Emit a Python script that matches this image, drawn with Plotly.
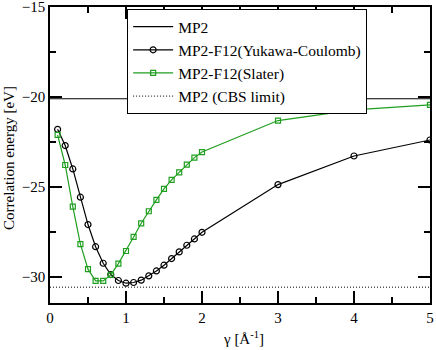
import plotly.graph_objects as go

# gamma values (1/Angstrom)
gamma = [0.1, 0.2, 0.3, 0.4, 0.5, 0.6, 0.7, 0.8, 0.9, 1.0,
         1.1, 1.2, 1.3, 1.4, 1.5, 1.6, 1.7, 1.8, 1.9, 2.0,
         3.0, 4.0, 5.0]

# correlation energies (eV)
yukawa = [-21.8, -22.7, -24.0, -25.57, -27.09, -28.32, -29.24, -29.87, -30.2, -30.35,
          -30.31, -30.18, -29.94, -29.67, -29.35, -28.98, -28.61, -28.24, -27.89, -27.52,
          -24.87, -23.28, -22.39]
slater = [-22.11, -23.78, -26.09, -28.18, -29.57, -30.22, -30.22, -29.89, -29.26, -28.56,
          -27.78, -27.02, -26.35, -25.72, -25.11, -24.61, -24.19, -23.76, -23.37, -23.06,
          -21.31, -20.72, -20.44]

mp2 = -20.1
mp2_cbs = -30.57
x_span = [0, 5]

green = "#1f9e1f"
font = "Liberation Serif, Times New Roman, Times, serif"

fig = go.Figure()
fig.add_trace(go.Scatter(x=x_span, y=[mp2, mp2], mode="lines", name="MP2",
                         line=dict(color="black", width=1.2)))
fig.add_trace(go.Scatter(x=gamma, y=yukawa, mode="lines+markers", name="MP2-F12(Yukawa-Coulomb)",
                         line=dict(color="black", width=1.2),
                         marker=dict(symbol="circle-open", size=6, color="black", line=dict(width=1.2))))
fig.add_trace(go.Scatter(x=gamma, y=slater, mode="lines+markers", name="MP2-F12(Slater)",
                         line=dict(color=green, width=1.2),
                         marker=dict(symbol="square-open", size=5, color=green, line=dict(width=1.2))))
fig.add_trace(go.Scatter(x=x_span, y=[mp2_cbs, mp2_cbs], mode="lines", name="MP2 (CBS limit)",
                         line=dict(color="black", width=1, dash="1px,2px")))

axis_common = dict(showgrid=False, zeroline=False, showline=True, linecolor="black", linewidth=1.5,
                   mirror="allticks", ticks="inside", ticklen=12, tickwidth=1.5, tickcolor="black",
                   tickfont=dict(family=font, size=15, color="black"), automargin=False,
                   ticklabeloverflow="allow")

fig.update_xaxes(range=[0, 5.0001], dtick=1, tick0=0,
                 minor=dict(dtick=0.5, ticks="inside", ticklen=6, tickwidth=1.5, tickcolor="black"),
                 **axis_common)
fig.update_yaxes(range=[-31.45, -15], dtick=5, tick0=-15,
                 minor=dict(dtick=2.5, ticks="inside", ticklen=6, tickwidth=1.5, tickcolor="black"),
                 **axis_common)

# axis titles as annotations so they sit where the reference has them
fig.add_annotation(text="Correlation energy [eV]", xref="paper", yref="paper",
                   x=-0.108, y=0.49, xanchor="center", yanchor="middle", textangle=-90,
                   showarrow=False, font=dict(family=font, size=15, color="black"))
fig.add_annotation(text="γ [Å<sup>-1</sup>]", xref="paper", yref="paper",
                   x=0.51, y=-0.08, xanchor="center", yanchor="top",
                   showarrow=False, font=dict(family=font, size=15, color="black"))

fig.update_layout(
    width=436, height=350,
    margin=dict(l=50, r=6, t=7, b=47),
    paper_bgcolor="white", plot_bgcolor="white",
    font=dict(family=font, size=15, color="black"),
    legend=dict(x=0.203, y=0.993, xanchor="left", yanchor="top",
                bordercolor="black", borderwidth=1, bgcolor="white",
                font=dict(family=font, size=15.5, color="black"),
                tracegroupgap=0, itemwidth=40),
    showlegend=True,
)

# page body has a default 8px margin; drop it so the figure sits at the corner
fig.write_html("out.html", config={"displayModeBar": False},
               post_script="document.body.style.margin='0';")
